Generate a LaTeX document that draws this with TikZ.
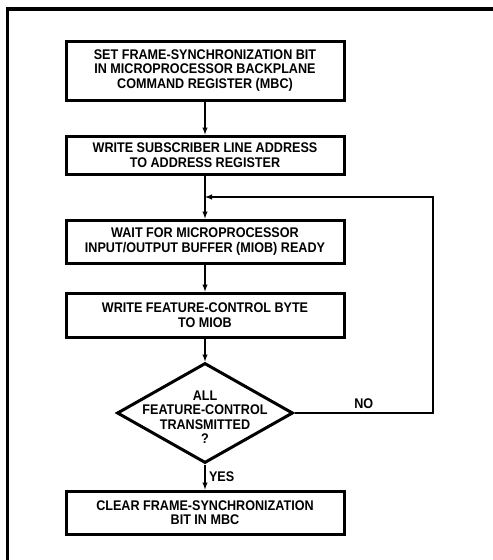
\documentclass[tikz,border=0pt]{standalone}
\usepackage{fontspec}
\setmainfont{Liberation Sans}[FakeStretch=0.9]
\usetikzlibrary{shapes.geometric}

\begin{document}
\begin{tikzpicture}[x=1pt,y=-1pt,>=latex,
    font=\fontsize{14}{14.5}\selectfont\bfseries,
    stepbox/.style={draw,line width=3pt,minimum width=278pt,inner sep=0pt,align=center},
    testbox/.style={draw,diamond,line width=3pt,minimum width=176pt,minimum height=100pt,inner sep=0pt},
    flow/.style={line width=1.4pt}]
  \useasboundingbox (0,0) rectangle (493,560);
  % frame
  \draw[line width=3.5pt] (7.5,560) -- (7.5,9) -- (493,9);
  % steps
  \node[stepbox,minimum height=59pt] (setbit) at (205,70.5) {SET FRAME-SYNCHRONIZATION BIT\\IN MICROPROCESSOR BACKPLANE\\COMMAND REGISTER (MBC)};
  \node[stepbox,minimum height=38pt] (writeaddr) at (205,155) {WRITE SUBSCRIBER LINE ADDRESS\\TO ADDRESS REGISTER};
  \node[stepbox,minimum height=43pt] (waitmiob) at (205,241.5) {WAIT FOR MICROPROCESSOR\\INPUT/OUTPUT BUFFER (MIOB) READY};
  \node[stepbox,minimum height=44pt] (writebyte) at (205,315) {WRITE FEATURE-CONTROL BYTE\\TO MIOB};
  \node[testbox,label={[align=center,yshift=-4pt]center:{ALL\\FEATURE-CONTROL\\TRANSMITTED\\?}}] (alldone) at (205,413) {};
  \node[stepbox,minimum height=43pt] (clearbit) at (205,512.5) {CLEAR FRAME-SYNCHRONIZATION\\BIT IN MBC};
  \coordinate (loopjoin) at (205,197);
  % connectors
  \draw[flow,->] (setbit) -- (writeaddr);
  \draw[flow,->] (writeaddr) -- (waitmiob);
  \draw[flow,->] (waitmiob) -- (writebyte);
  \draw[flow,->] (writebyte) -- (alldone);
  \draw[flow,->] (alldone) -- node[right] {YES} (clearbit);
  \draw[flow,->] (alldone.east) -- node[above] {NO} (433,413) |- (loopjoin);
\end{tikzpicture}
\end{document}
